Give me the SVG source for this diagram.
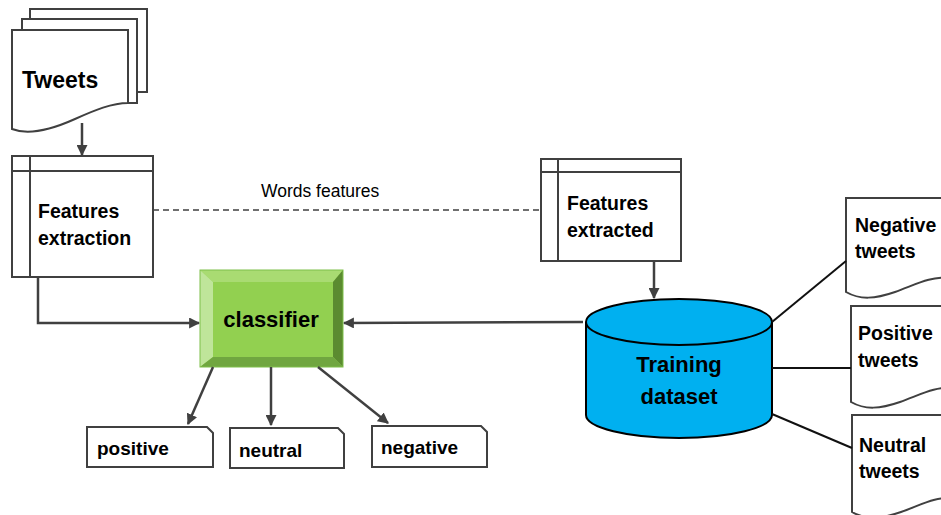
<svg xmlns="http://www.w3.org/2000/svg" width="941" height="515" viewBox="0 0 941 515">
  <defs>
    <marker id="arrow" viewBox="0 0 10 10" refX="9" refY="5" markerWidth="4.4" markerHeight="4.4" orient="auto" markerUnits="strokeWidth">
      <path d="M0,0 L10,5 L0,10 Z" fill="#404040"/>
    </marker>
  </defs>
  <style>
    .box { fill: #ffffff; stroke: #404040; stroke-width: 2; }
    .doc { fill: #ffffff; stroke: #404040; stroke-width: 2; stroke-linejoin: miter; }
    .grid { stroke: #404040; stroke-width: 2; fill: none; }
    .label { font-family: "Liberation Sans", Arial, sans-serif; font-weight: bold; fill: #000000; }
    .conn { fill: none; stroke: #404040; stroke-width: 2.5; }
    .link { fill: none; stroke: #111111; stroke-width: 2; }
  </style>
  <rect width="941" height="515" fill="#ffffff"/>

  <!-- stacked tweet documents -->
  <g id="tweets">
    <path class="doc" d="M30,19 V9 H147 V92 H137"/>
    <path class="doc" d="M22,30 V19 H137 V103 H128"/>
    <path class="doc" d="M12,30 H128 V103 C112,103 95,110 75,119 C55,128 30,136 12,129 Z"/>
    <text class="label" x="22" y="88" font-size="23">Tweets</text>
  </g>

  <!-- feature extraction step -->
  <g id="features-extraction">
    <rect class="box" x="12" y="156" width="141" height="121"/>
    <path class="grid" d="M30,156 V277 M12,171 H153"/>
    <text class="label" x="38" y="218" font-size="19.5">Features</text>
    <text class="label" x="38" y="245" font-size="19.5">extraction</text>
  </g>

  <!-- extracted features -->
  <g id="features-extracted">
    <rect class="box" x="541" y="159" width="140" height="102"/>
    <path class="grid" d="M558,159 V261 M541,172 H681"/>
    <text class="label" x="567" y="210" font-size="19.5">Features</text>
    <text class="label" x="567" y="237" font-size="19.5">extracted</text>
  </g>

  <!-- bevelled classifier block -->
  <g id="classifier">
    <rect x="200" y="270" width="143" height="97" fill="#92D050"/>
    <polygon points="200,270 343,270 333,282 213,282" fill="#A9DB72"/>
    <polygon points="200,270 213,282 213,357 200,367" fill="#BFE59A"/>
    <polygon points="343,270 343,367 333,357 333,282" fill="#5B8B30"/>
    <polygon points="200,367 213,357 333,357 343,367" fill="#70A640"/>
    <rect x="200" y="270" width="143" height="97" fill="none" stroke="#7FBF4A" stroke-width="1"/>
    <text class="label" x="271" y="327" font-size="22" text-anchor="middle">classifier</text>
  </g>

  <!-- training dataset cylinder -->
  <g id="training-dataset">
    <path d="M586,322 V415 A93,23 0 0 0 772,415 V322" fill="#00B0F0" stroke="#000000" stroke-width="2"/>
    <ellipse cx="679" cy="322" rx="93" ry="23" fill="#00B0F0" stroke="#000000" stroke-width="2"/>
    <text class="label" x="679" y="372" font-size="22" text-anchor="middle">Training</text>
    <text class="label" x="679" y="404" font-size="22" text-anchor="middle">dataset</text>
  </g>

  <!-- result labels -->
  <g id="out-positive">
    <path class="box" d="M87,427 H207 L213,433 V467 H87 Z"/>
    <text class="label" x="97" y="455" font-size="19">positive</text>
  </g>
  <g id="out-neutral">
    <path class="box" d="M230,428 H338 L344,434 V468 H230 Z"/>
    <text class="label" x="239" y="457" font-size="19">neutral</text>
  </g>
  <g id="out-negative">
    <path class="box" d="M372,426 H481 L487,432 V467 H372 Z"/>
    <text class="label" x="381" y="454" font-size="19">negative</text>
  </g>

  <!-- labelled tweet sets -->
  <g id="negative-tweets">
    <path class="doc" d="M846,292 V198 H950 V278 C930,276 915,285 895,292 C875,299 860,300 846,292 Z"/>
    <text class="label" x="855" y="232" font-size="19.5">Negative</text>
    <text class="label" x="855" y="258" font-size="19.5">tweets</text>
  </g>
  <g id="positive-tweets">
    <path class="doc" d="M851,402 V306 H955 V388 C935,386 920,395 900,402 C880,409 865,410 851,402 Z"/>
    <text class="label" x="858" y="340" font-size="19.5">Positive</text>
    <text class="label" x="858" y="367" font-size="19.5">tweets</text>
  </g>
  <g id="neutral-tweets">
    <path class="doc" d="M852,512 V415 H956 V498 C936,496 921,505 901,512 C881,519 866,520 852,512 Z"/>
    <text class="label" x="859" y="452" font-size="19.5">Neutral</text>
    <text class="label" x="859" y="478" font-size="19.5">tweets</text>
  </g>

  <!-- connectors -->
  <g id="connectors">
    <line class="conn" x1="82" y1="123" x2="82" y2="155" marker-end="url(#arrow)"/>
    <path class="conn" d="M38,277 V323 H199" stroke="#262626" stroke-width="2.8" marker-end="url(#arrow)"/>
    <line x1="153" y1="210" x2="541" y2="210" stroke="#404040" stroke-width="1.6" stroke-dasharray="6,4"/>
    <line class="conn" x1="654" y1="261" x2="654" y2="298" marker-end="url(#arrow)"/>
    <line class="conn" x1="583" y1="322" x2="344" y2="323" marker-end="url(#arrow)"/>
    <line class="conn" x1="213" y1="367" x2="188" y2="424" marker-end="url(#arrow)"/>
    <line class="conn" x1="271" y1="367" x2="271" y2="425" marker-end="url(#arrow)"/>
    <line class="conn" x1="318" y1="367" x2="388" y2="423" marker-end="url(#arrow)"/>
    <line class="link" x1="772" y1="322" x2="846" y2="261"/>
    <line class="link" x1="772" y1="368" x2="851" y2="368"/>
    <line class="link" x1="772" y1="414" x2="852" y2="448"/>
  </g>

  <text x="261" y="197" font-family="Liberation Sans, Arial, sans-serif" font-size="17.5" fill="#000000">Words features</text>
</svg>
